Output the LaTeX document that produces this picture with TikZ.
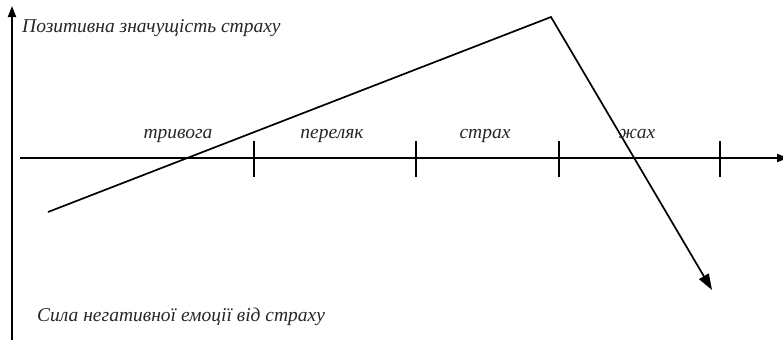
\documentclass[tikz,border=0pt]{standalone}
\usepackage{fontspec}
\setmainfont{Liberation Serif}
\usetikzlibrary{arrows.meta}
\begin{document}
\begin{tikzpicture}[x=1pt,y=-1pt,
  axis/.style={line width=1.8pt,-{Triangle[length=11pt,width=8pt]}},
  tickln/.style={line width=1.8pt},
  curve/.style={line width=1.7pt,-{Triangle[length=16pt,width=11pt]}},
  lbl/.style={font=\fontsize{19.5}{22}\selectfont\itshape,inner sep=0pt,text=black!85}]
\useasboundingbox (0,0) rectangle (783,351);
\coordinate (yb) at (12,340);
\coordinate (yt) at (12,6);
\coordinate (xl) at (20,158);
\coordinate (xr) at (788,158);
\draw[axis] (yb) -- (yt);
\draw[axis] (xl) -- (xr);
\foreach \x/\n in {254/t1,416/t2,559/t3,720/t4}{
  \coordinate (\n a) at (\x,141);
  \coordinate (\n b) at (\x,177);
  \draw[tickln] (\n a) -- (\n b);
}
\coordinate (p1) at (48,212);
\coordinate (p2) at (551,17);
\coordinate (p3) at (712,290);
\draw[curve] (p1) -- (p2) -- (p3);
\node[lbl,anchor=base west] (ylab) at (22,32) {Позитивна значущість страху};
\node[lbl,anchor=base] (l1) at (178,138) {тривога};
\node[lbl,anchor=base] (l2) at (332,138) {переляк};
\node[lbl,anchor=base] (l3) at (485,138) {страх};
\node[lbl,anchor=base] (l4) at (637,138) {жах};
\node[lbl,anchor=base west] (xlab) at (37,321) {Сила негативної емоції від страху};
\end{tikzpicture}
\end{document}
